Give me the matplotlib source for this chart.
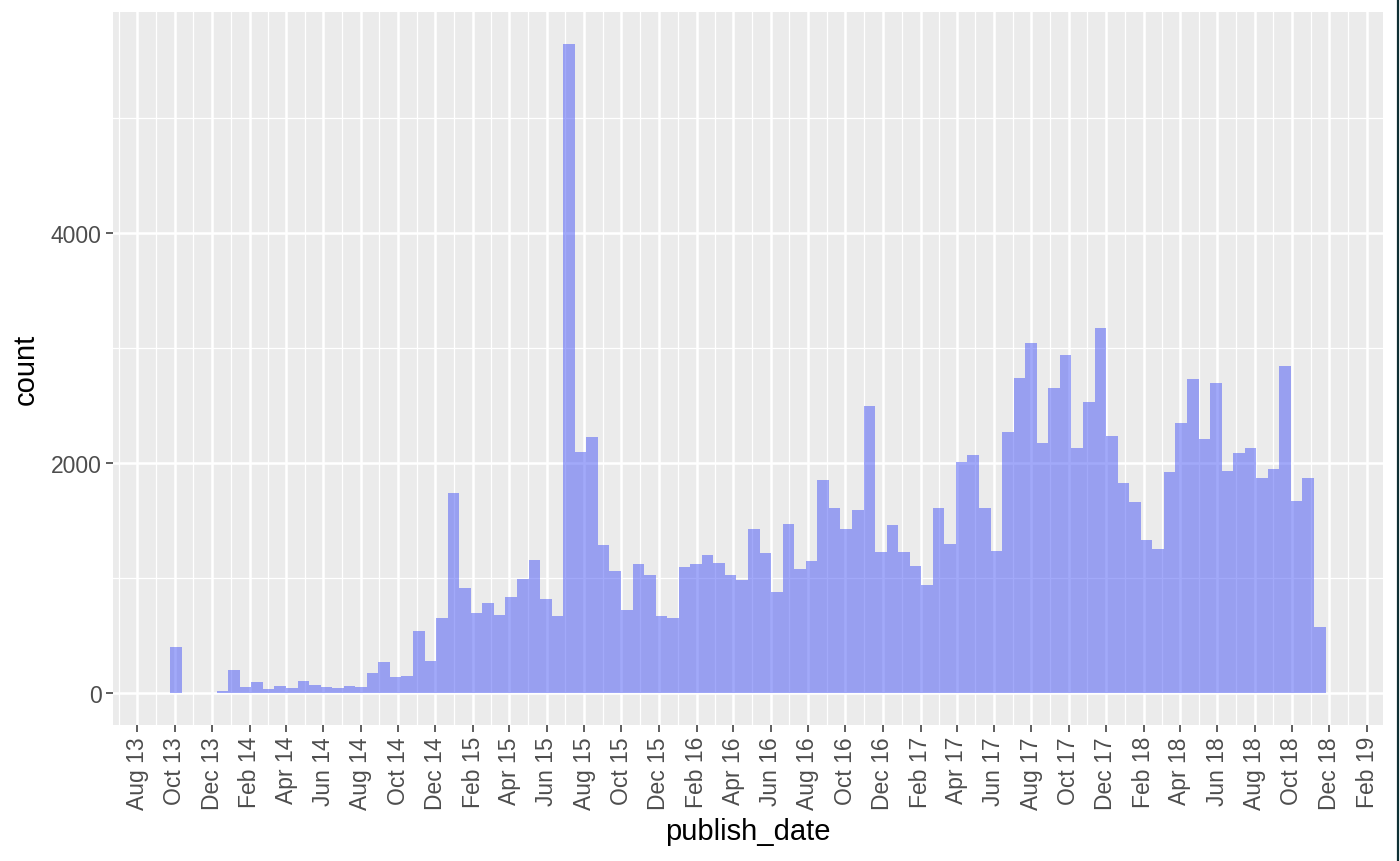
import numpy as np
import pandas as pd
import matplotlib
matplotlib.use("Agg")
import matplotlib.pyplot as plt
import matplotlib.dates as mdates
from matplotlib.lines import Line2D

# ---- data (histogram of publish_date, 100 bins) ----
bin_start = "2013-09-24"
bin_width_days = 18.88
counts = [398, 0, 0, 0, 15, 198, 52, 93, 32, 58,
          41, 102, 67, 49, 38, 58, 49, 171, 267, 136,
          142, 537, 276, 648, 1738, 909, 688, 777, 672, 827,
          987, 1150, 812, 664, 5641, 2090, 2222, 1282, 1057, 715,
          1115, 1022, 664, 645, 1092, 1115, 1200, 1130, 1025, 975,
          1421, 1211, 873, 1464, 1071, 1141, 1849, 1607, 1421, 1590,
          2489, 1220, 1456, 1220, 1104, 934, 1607, 1290, 2006, 2067,
          1607, 1229, 2268, 2739, 3045, 2172, 2652, 2937, 2128, 2527,
          3167, 2233, 1822, 1659, 1325, 1249, 1918, 2346, 2731, 2207,
          2696, 1927, 2084, 2128, 1866, 1945, 2844, 1668, 1866, 574]
x_tick_dates = pd.date_range("2013-08-01", "2019-02-01", freq="2MS")
x_tick_labels = [d.strftime("%b %y") for d in x_tick_dates]
y_ticks = [0, 2000, 4000]
y_minor = [1000, 3000, 5000]
x_label = "publish_date"
y_label = "count"

plt.rcParams["font.family"] = ["Liberation Sans", "DejaVu Sans"]

fig = plt.figure(figsize=(14, 8.62), dpi=100)
ax = fig.add_axes([0.0805, 0.1578, 0.9076, 0.8275])
ax.set_facecolor("#EBEBEB")
for s in ax.spines.values():
    s.set_visible(False)

start_num = mdates.date2num(pd.Timestamp(bin_start))
n = len(counts)
edges = start_num + np.arange(n) * bin_width_days
ax.bar(edges, counts, width=bin_width_days, align="edge",
       color=(70/255, 85/255, 245/255), alpha=0.5, linewidth=0, zorder=3)

# limits with ggplot-style 5% expansion
x0, x1 = start_num, start_num + n * bin_width_days
dx = (x1 - x0) * 0.05
ax.set_xlim(x0 - dx, x1 + dx)
ymax = max(counts)
ax.set_ylim(-0.05 * ymax, 1.05 * ymax)

# grid
tick_nums = mdates.date2num(x_tick_dates)
step = tick_nums[1] - tick_nums[0]
minor_x = list((tick_nums[:-1] + tick_nums[1:]) / 2)
minor_x = [tick_nums[0] - (tick_nums[1] - tick_nums[0]) / 2] + minor_x + [tick_nums[-1] + 29.5]
xl = ax.get_xlim()
for m in minor_x:
    if xl[0] < m < xl[1]:
        ax.axvline(m, color="white", lw=0.9, zorder=1)
for t in tick_nums:
    ax.axvline(t, color="white", lw=1.8, zorder=1)
for m in y_minor:
    ax.axhline(m, color="white", lw=0.9, zorder=1)
for t in y_ticks:
    ax.axhline(t, color="white", lw=1.8, zorder=1)

ax.set_xticks(tick_nums)
ax.set_xticklabels(x_tick_labels, rotation=90, ha="center", va="top")
ax.set_yticks(y_ticks)
ax.set_yticklabels([str(v) for v in y_ticks])
ax.tick_params(axis="both", which="major", length=5, width=1.1,
               color="#333333", labelcolor="#4D4D4D", labelsize=16.5, pad=3)
ax.tick_params(axis="x", which="minor", length=0)

ax.set_xlabel(x_label, fontsize=21, color="black", labelpad=6)
ax.set_ylabel(y_label, fontsize=21, color="black", labelpad=8)

fig.add_artist(Line2D([0.9989, 0.9989], [0, 1], color="#0E2F33", lw=1.6,
                      transform=fig.transFigure))

fig.savefig("out.png", dpi=100)
